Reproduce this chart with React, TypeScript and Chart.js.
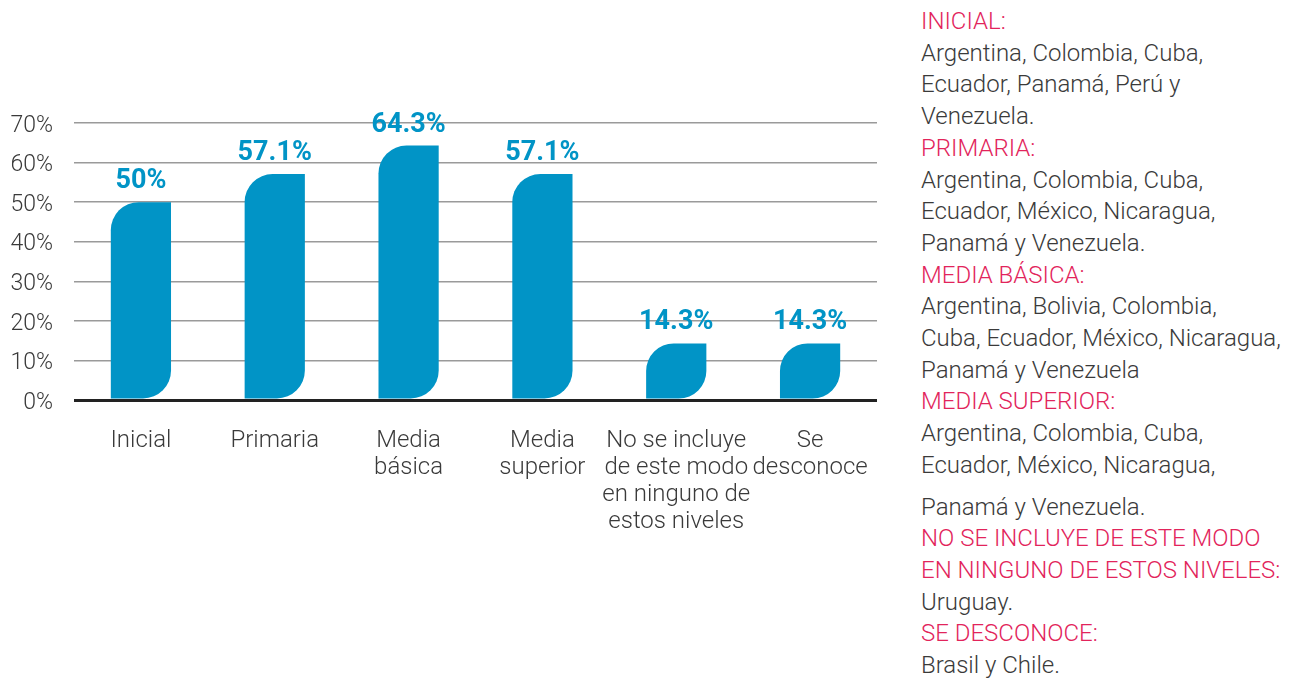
import React, { useEffect, useRef } from "react";
import { Chart, registerables } from "chart.js";

Chart.register(...registerables);

const categories: string[][] = [
  ["Inicial"],
  ["Primaria"],
  ["Media", "básica"],
  ["Media", "superior"],
  ["No se incluye", "de este modo", "en ninguno de", "estos niveles"],
  ["Se", "desconoce"],
];
const values = [50, 57.1, 64.3, 57.1, 14.3, 14.3];
const valueLabels = ["50%", "57.1%", "64.3%", "57.1%", "14.3%", "14.3%"];
const yMin = 0;
const yMax = 70;
const yStep = 10;

const notesTitleLines: string[][] = [
  ["INICIAL:"],
  ["PRIMARIA:"],
  ["MEDIA BÁSICA:"],
  ["MEDIA SUPERIOR:"],
  ["NO SE INCLUYE DE ESTE MODO", "EN NINGUNO DE ESTOS NIVELES:"],
  ["SE DESCONOCE:"],
];
const notesBodyLines: string[][] = [
  ["Argentina, Colombia, Cuba,", "Ecuador, Panamá, Perú y", "Venezuela."],
  ["Argentina, Colombia, Cuba,", "Ecuador, México, Nicaragua,", "Panamá y Venezuela."],
  ["Argentina, Bolivia, Colombia,", "Cuba, Ecuador, México, Nicaragua,", "Panamá y Venezuela"],
  ["Argentina, Colombia, Cuba,", "Ecuador, México, Nicaragua,", "Panamá y Venezuela."],
  ["Uruguay."],
  ["Brasil y Chile."],
];

const BLUE = "#0194C6";
const PINK = "#E2245B";
const TEXT = "#3a3a3a";

const valueLabelPlugin = {
  id: "valueLabels",
  afterDatasetsDraw(chart: any) {
    const ctx = chart.ctx;
    const meta = chart.getDatasetMeta(0);
    ctx.save();
    ctx.fillStyle = BLUE;
    ctx.font = "bold 27px Roboto";
    ctx.textAlign = "center";
    ctx.textBaseline = "alphabetic";
    meta.data.forEach((bar: any, i: number) => {
      ctx.fillText(valueLabels[i], bar.x, bar.y - 14);
    });
    ctx.restore();
  },
};

function BarChart() {
  const ref = useRef<HTMLCanvasElement>(null);
  useEffect(() => {
    if (!ref.current) return;
    const chart = new Chart(ref.current, {
      type: "bar",
      data: {
        labels: categories,
        datasets: [
          {
            data: values,
            backgroundColor: BLUE,
            borderWidth: 0,
            borderSkipped: false,
            borderRadius: { topLeft: 28, bottomRight: 28, topRight: 0, bottomLeft: 0 },
            barPercentage: 0.45,
            categoryPercentage: 1,
          } as any,
        ],
      },
      options: {
        animation: false,
        responsive: true,
        maintainAspectRatio: false,
        layout: { padding: { top: 123, right: 23, left: 0, bottom: 0 } },
        plugins: { legend: { display: false }, tooltip: { enabled: false } },
        scales: {
          x: {
            grid: { display: false },
            border: { display: false },
            ticks: {
              color: TEXT,
              padding: 19,
              maxRotation: 0,
              autoSkip: false,
              font: { family: "Roboto", weight: "300" as any, size: 24, lineHeight: 1.125 },
            },
            afterFit: (s: any) => {
              s.height = 282;
            },
          },
          y: {
            min: yMin,
            max: yMax,
            grid: {
              drawTicks: false,
              color: (c: any) => (c.tick && c.tick.value === 0 ? "#222222" : "#9a9a9a"),
              lineWidth: (c: any) => (c.tick && c.tick.value === 0 ? 3 : 1.5),
            },
            border: { display: false },
            ticks: {
              stepSize: yStep,
              padding: 21,
              labelOffset: 3,
              color: TEXT,
              font: { family: "Roboto", weight: "300" as any, size: 23 },
              callback: (v: any) => v + "%",
            },
            afterFit: (s: any) => {
              s.width = 74;
            },
          },
        },
      },
      plugins: [valueLabelPlugin],
    });
    return () => chart.destroy();
  }, []);
  return (
    <div style={{ position: "absolute", left: 0, top: 0, width: 900, height: 682 }}>
      <canvas ref={ref} />
    </div>
  );
}

function Notes() {
  return (
    <div
      style={{
        position: "absolute",
        left: 921,
        top: 6,
        fontFamily: "Roboto",
        fontWeight: 300,
        fontSize: 24,
        lineHeight: "31.7px",
        color: TEXT,
        whiteSpace: "nowrap",
      }}
    >
      {notesTitleLines.map((t, i) => (
        <div key={i}>
          {t.map((l, j) => (
            <div key={"t" + j} style={{ color: PINK }}>
              {l}
            </div>
          ))}
          {notesBodyLines[i].map((l, j) => (
            <div key={"b" + j} style={i === 3 && j === 2 ? { marginTop: 10 } : undefined}>
              {l}
            </div>
          ))}
        </div>
      ))}
    </div>
  );
}

export default function App() {
  return (
    <div style={{ position: "absolute", left: 0, top: 0, width: 1291, height: 682, background: "#fff" }}>
      <BarChart />
      <Notes />
    </div>
  );
}
